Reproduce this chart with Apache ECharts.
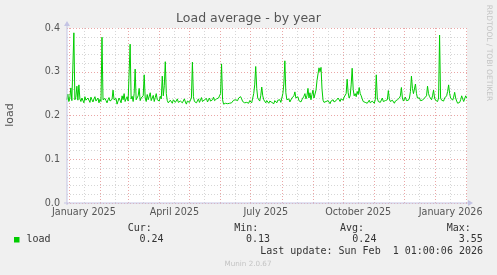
<!DOCTYPE html>
<html><head><meta charset="utf-8">
<script src="https://cdn.jsdelivr.net/npm/echarts@6/dist/echarts.min.js"></script>
<style>html,body{margin:0;padding:0;background:#f0f0f0;}#c{width:497px;height:275px;}</style>
</head><body><div id="c"></div>
<script>
// ---- data ----
const titleText = 'Load average - by year';
const seriesName = 'load';
const startDate = [2024, 11, 30];   // first daily sample (UTC, month 0-based)
const stepDays = 1;
const loadValues = [
0.236,0.249,0.232,0.240,0.263,0.234,0.238,0.389,0.236,0.242,
0.267,0.235,0.270,0.238,0.232,0.240,0.236,0.229,0.243,0.235,
0.232,0.240,0.237,0.230,0.242,0.236,0.231,0.238,0.243,0.233,
0.236,0.240,0.229,0.237,0.232,0.379,0.236,0.232,0.239,0.234,
0.229,0.236,0.241,0.233,0.230,0.237,0.258,0.236,0.232,0.239,
0.226,0.233,0.240,0.235,0.229,0.245,0.236,0.250,0.232,0.238,
0.243,0.233,0.236,0.363,0.238,0.244,0.232,0.250,0.306,0.236,
0.240,0.245,0.262,0.234,0.240,0.236,0.245,0.293,0.240,0.232,
0.248,0.236,0.240,0.252,0.234,0.238,0.246,0.232,0.241,0.250,
0.236,0.240,0.233,0.244,0.238,0.290,0.245,0.268,0.323,0.250,
0.234,0.229,0.232,0.235,0.231,0.228,0.236,0.232,0.230,0.234,
0.238,0.230,0.227,0.233,0.236,0.229,0.232,0.238,0.231,0.226,
0.233,0.236,0.230,0.234,0.240,0.322,0.243,0.232,0.236,0.229,
0.233,0.238,0.230,0.235,0.241,0.232,0.228,0.236,0.233,0.239,
0.231,0.235,0.240,0.233,0.229,0.236,0.242,0.234,0.231,0.238,
0.235,0.240,0.243,0.250,0.318,0.236,0.226,0.224,0.228,0.225,
0.227,0.230,0.228,0.232,0.229,0.233,0.235,0.231,0.236,0.238,
0.234,0.240,0.237,0.243,0.238,0.232,0.235,0.229,0.233,0.230,
0.232,0.228,0.234,0.231,0.229,0.233,0.250,0.270,0.312,0.262,
0.240,0.236,0.233,0.245,0.265,0.245,0.236,0.232,0.229,0.234,
0.231,0.228,0.233,0.236,0.230,0.232,0.227,0.234,0.231,0.229,
0.235,0.232,0.236,0.230,0.240,0.250,0.272,0.325,0.252,0.236,
0.233,0.238,0.231,0.235,0.240,0.236,0.245,0.254,0.240,0.236,
0.243,0.234,0.238,0.231,0.236,0.240,0.244,0.250,0.238,0.245,
0.262,0.240,0.252,0.236,0.248,0.258,0.240,0.236,0.258,0.280,
0.295,0.309,0.300,0.310,0.260,0.235,0.230,0.226,0.232,0.228,
0.234,0.230,0.227,0.233,0.229,0.236,0.231,0.228,0.234,0.230,
0.240,0.236,0.232,0.238,0.240,0.235,0.242,0.240,0.250,0.283,
0.252,0.240,0.245,0.270,0.308,0.260,0.245,0.250,0.243,0.255,
0.248,0.264,0.250,0.245,0.238,0.232,0.236,0.230,0.234,0.228,
0.232,0.235,0.229,0.226,0.233,0.230,0.228,0.236,0.293,0.240,
0.232,0.228,0.230,0.226,0.240,0.232,0.229,0.234,0.230,0.236,
0.257,0.238,0.232,0.229,0.235,0.231,0.228,0.233,0.230,0.236,
0.234,0.240,0.245,0.264,0.240,0.233,0.236,0.242,0.234,0.238,
0.235,0.240,0.255,0.290,0.262,0.250,0.248,0.272,0.250,0.240,
0.236,0.240,0.234,0.238,0.235,0.232,0.240,0.236,0.245,0.267,
0.250,0.243,0.240,0.236,0.245,0.258,0.240,0.235,0.238,0.232,
0.240,0.384,0.240,0.235,0.238,0.233,0.240,0.236,0.245,0.255,
0.270,0.250,0.240,0.236,0.235,0.242,0.253,0.240,0.233,0.228,
0.232,0.230,0.236,0.245,0.238,0.232,0.236,0.245,0.240
];
const xTickLabels = ['January 2025', 'April 2025', 'July 2025', 'October 2025', 'January 2026'];
const xTickDates = [[2025,0,16], [2025,3,16], [2025,6,16], [2025,9,16], [2026,0,16]];
const yMin = 0, yMax = 0.4, yStep = 0.1;
const legendHeaders = ['Cur:', 'Min:', 'Avg:', 'Max:'];
const legendValues = ['0.24', '0.13', '0.24', '3.55'];
const lastUpdate = 'Last update: Sun Feb  1 01:00:06 2026';
const footer = 'Munin 2.0.67';
const sideText = 'RRDTOOL / TOBI OETIKER';

// ---- build ----
const DAY = 86400000;
const t0 = Date.UTC(startDate[0], startDate[1], startDate[2]);
const seriesData = loadValues.map((v, i) => [t0 + i * stepDays * DAY, v]);
const xMin = Date.UTC(2024, 11, 30, 4);
const xMax = Date.UTC(2026, 1, 1, 7);
const tickTimes = xTickDates.map(d => Date.UTC(d[0], d[1], d[2]));

const monthStarts = [], monthMids = [];
for (let y = 2024; y <= 2026; y++) for (let m = 0; m < 12; m++) {
  const a = Date.UTC(y, m, 1), b = Date.UTC(y, m, 16);
  if (a >= xMin && a <= xMax + DAY) monthStarts.push(Math.min(a, xMax));
  if (b >= xMin && b <= xMax) monthMids.push(b);
}
const RED = '#eaa6a6', GRAY = '#d6d6d6', AXIS = '#c4c4e4', TXT = '#555555';

const chart = echarts.init(document.getElementById('c'), null, {renderer: 'canvas'});
const L = 67, T = 28, W = 400, H = 175;
const graphic = [
  {type: 'text', left: 'center', top: 12, style: {text: titleText, font: '12.5px "DejaVu Sans"', fill: '#555'}},
  {type: 'text', x: 10.5, y: 115, rotation: Math.PI / 2, style: {text: seriesName, font: '11px "DejaVu Sans"', fill: TXT, align: 'center', verticalAlign: 'middle'}},
  {type: 'text', x: 488.5, y: 53, rotation: -Math.PI / 2, style: {text: sideText, font: '7.5px "DejaVu Sans"', fill: '#c4c4c4', align: 'center', verticalAlign: 'middle'}},
  {type: 'line', shape: {x1: L, y1: T + H + 2, x2: L, y2: T - 4}, style: {stroke: AXIS, lineWidth: 1}, z: 10},
  {type: 'polygon', shape: {points: [[L - 3, T - 2], [L + 3, T - 2], [L, T - 7]]}, style: {fill: AXIS}, z: 10},
  {type: 'line', shape: {x1: L - 3, y1: T + H, x2: L + W + 3, y2: T + H}, style: {stroke: AXIS, lineWidth: 1}, z: 10},
  {type: 'polygon', shape: {points: [[L + W + 1, T + H - 3], [L + W + 1, T + H + 3], [L + W + 6, T + H]]}, style: {fill: AXIS}, z: 10},
  {type: 'rect', shape: {x: 14, y: 237, width: 5.5, height: 5.5}, style: {fill: '#00cc00'}},
  {type: 'text', x: 26.5, y: 239.5, style: {text: seriesName, font: '10px "DejaVu Sans Mono"', fill: '#333', verticalAlign: 'middle'}},
  {type: 'text', x: 483, y: 251, style: {text: lastUpdate, font: '10px "DejaVu Sans Mono"', fill: '#333', align: 'right', verticalAlign: 'middle'}},
  {type: 'text', x: 248, y: 264.5, style: {text: footer, font: '7.2px "DejaVu Sans"', fill: '#c4c4c4', align: 'center', verticalAlign: 'middle'}}
];
const hdrX = [127.7, 234.3, 340, 446.7];
const valX = [163.5, 270, 376.4, 482.8];
legendHeaders.forEach((h, i) => graphic.push({type: 'text', x: hdrX[i], y: 228.5, style: {text: h, font: '10px "DejaVu Sans Mono"', fill: '#333', verticalAlign: 'middle'}}));
legendValues.forEach((v, i) => graphic.push({type: 'text', x: valX[i], y: 239.5, style: {text: v, font: '10px "DejaVu Sans Mono"', fill: '#333', align: 'right', verticalAlign: 'middle'}}));

chart.setOption({
  backgroundColor: '#f0f0f0',
  animation: false,
  grid: {left: L, top: T, width: W, height: H, show: true, backgroundColor: '#ffffff', borderWidth: 0},
  xAxis: {
    type: 'value', min: xMin, max: xMax,
    axisLine: {show: false}, axisTick: {show: false}, splitLine: {show: false},
    axisLabel: {
      customValues: tickTimes, margin: 4, color: TXT, fontSize: 9.6, fontFamily: 'DejaVu Sans',
      formatter: (val) => { const k = tickTimes.indexOf(val); return k >= 0 ? xTickLabels[k] : ''; }
    }
  },
  yAxis: {
    type: 'value', min: yMin, max: yMax, interval: yStep,
    axisLine: {show: false}, axisTick: {show: false},
    axisLabel: {margin: 7, color: TXT, fontSize: 9.6, fontFamily: 'DejaVu Sans', formatter: v => v.toFixed(1)},
    splitLine: {show: true, lineStyle: {color: RED, type: [1, 2], width: 1}},
    minorTick: {show: false, splitNumber: 5},
    minorSplitLine: {show: true, lineStyle: {color: GRAY, type: [1, 2], width: 1}}
  },
  series: [
    {
      type: 'line', data: [], z: 1, silent: true,
      markLine: {
        silent: true, symbol: 'none', animation: false, label: {show: false},
        data: monthMids.map(t => ({xAxis: t, lineStyle: {color: GRAY, type: [1, 2], width: 1}}))
          .concat(monthStarts.map(t => ({xAxis: t, lineStyle: {color: RED, type: [1, 2], width: 1}})))
      }
    },
    {
      name: seriesName, type: 'line', data: seriesData, z: 5, showSymbol: false, symbol: 'none',
      lineStyle: {color: '#00cc00', width: 1}, silent: true
    }
  ],
  graphic: graphic
});
</script></body></html>
